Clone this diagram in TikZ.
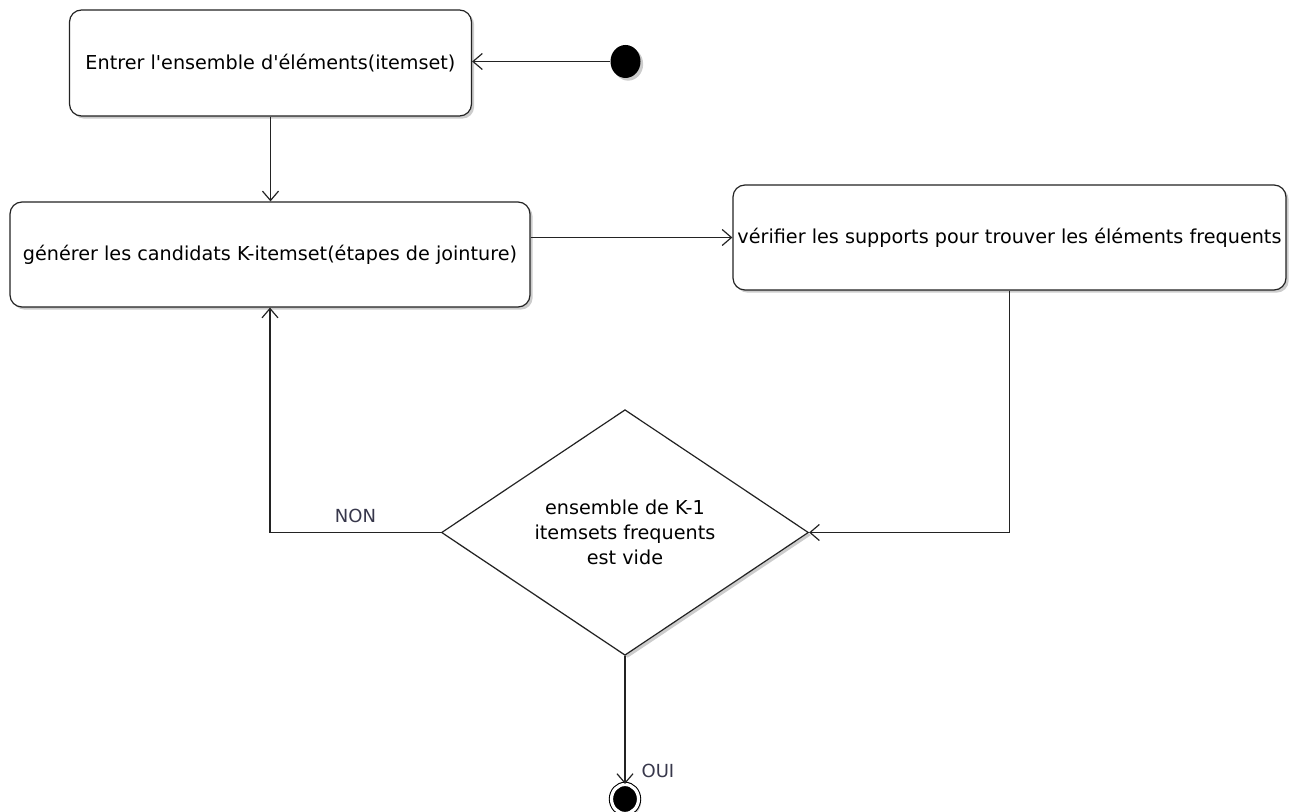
\documentclass[tikz,border=0pt]{standalone}
\usepackage{fontspec}
\setmainfont{DejaVu Sans}
\usetikzlibrary{arrows.meta,positioning,calc,shapes.geometric,shadows}
\definecolor{linecol}{RGB}{35,35,35}
\definecolor{labelcol}{RGB}{55,55,75}

\begin{document}
\begin{tikzpicture}[x=0.75pt,y=-0.75pt,>={Straight Barb[length=7pt,width=12pt]},
  shade/.style={drop shadow={shadow xshift=2pt,shadow yshift=-2pt,fill=black!20,opacity=1}},
  action/.style={draw=linecol,line width=0.9pt,rounded corners=9pt,fill=white,shade,
    inner sep=0pt,align=center,font=\fontsize{14.4}{18.75}\selectfont},
  decision/.style={diamond,draw=linecol,line width=0.9pt,fill=white,shade,
    inner sep=0pt,align=center,font=\fontsize{14.4}{18.75}\selectfont},
  flow/.style={->,draw=linecol,line width=0.9pt},
  guard/.style={text=labelcol,inner sep=0pt,font=\fontsize{13.5}{15}\selectfont}]
  \useasboundingbox (0,0) rectangle (1290,812);

  \node[ellipse,fill=black,shade,minimum width=22.5pt,minimum height=24.75pt,inner sep=0pt] (start) at (625.5,61.5) {};
  \node[action,minimum width=301.5pt,minimum height=79.5pt] (entrer) at (270.5,63) {Entrer l\textquotesingle ensemble d\textquotesingle éléments(itemset)};
  \node[action,minimum width=390pt,minimum height=78.75pt] (generer) at (270,254.5) {générer les candidats K-itemset(étapes de jointure)};
  \node[action,minimum width=414.75pt,minimum height=78.75pt] (verifier) at (1009.5,237.5) {vérifier les supports pour trouver les éléments frequents};
  \node[decision,minimum width=275.25pt,minimum height=183.75pt] (vide) at (625,532.5) {ensemble de K-1\\itemsets frequents\\est vide};
  \node[ellipse,draw=black,fill=black,line width=0.8pt,double=white,double distance=2.4pt,shade,
    minimum width=20.25pt,minimum height=21.75pt,inner sep=0pt] (fin) at (625,799) {};

  \draw[flow] (start) -- (start -| entrer.east);
  \draw[flow] (entrer) -- (entrer |- generer.north);
  \draw[flow] (generer.east |- verifier.west) -- (verifier.west);
  \draw[flow] (verifier) |- (vide.east);
  \draw[flow] (vide.west) -| (generer.south) node[guard,pos=0.25,above=7pt] {NON};
  \draw[flow] (vide.south) -- (fin.north) node[guard,pos=0.9,right=12pt] {OUI};
\end{tikzpicture}
\end{document}
